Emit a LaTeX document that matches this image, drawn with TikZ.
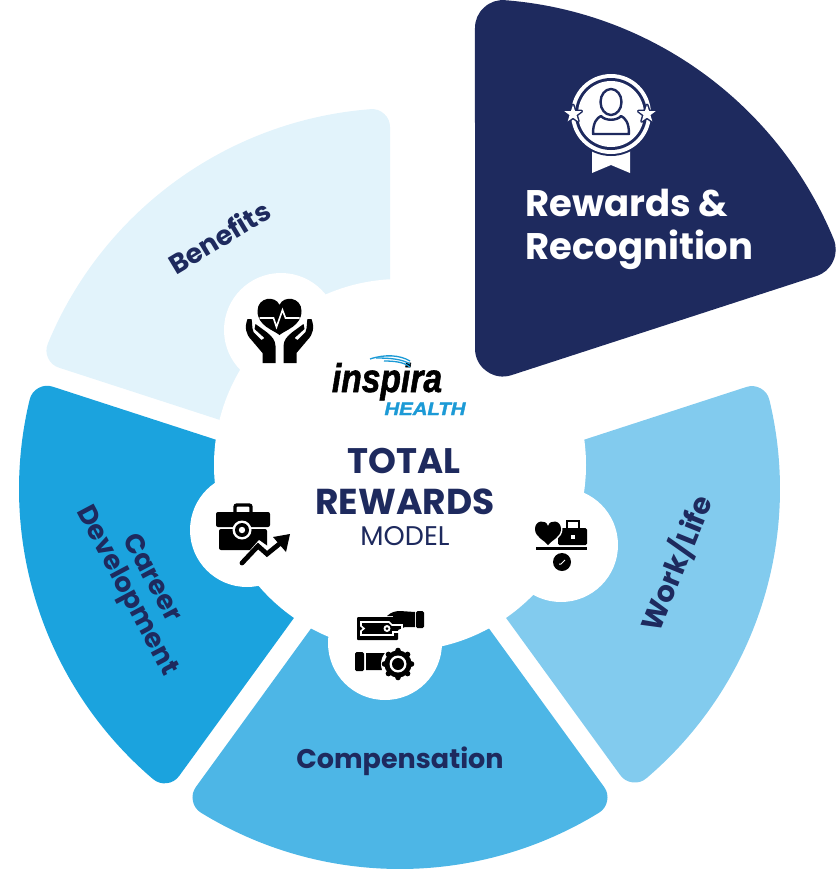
\documentclass[tikz,border=0pt]{standalone}
\usepackage{fontspec}
\setmainfont{Poppins}
\newfontfamily\logofont[FakeBold=1.6]{Liberation Sans Bold Italic}
\definecolor{navy}{HTML}{1E2A5E}
\definecolor{cben}{HTML}{E2F3FB}
\definecolor{ccar}{HTML}{1BA3DE}
\definecolor{ccom}{HTML}{4DB6E6}
\definecolor{cwor}{HTML}{82CBEE}
\definecolor{clogo}{HTML}{1C9AD6}
\newcommand{\wedgeshape}[8]{% cx cy a1(start, larger) a2 R off r colour
  \pgfmathsetmacro{\oo}{#6+#7}
  \pgfmathsetmacro{\half}{(#3-#4)/2}
  \pgfmathsetmacro{\mid}{(#3+#4)/2}
  \pgfmathsetmacro{\dd}{\oo/sin(\half)}
  \pgfmathsetmacro{\rr}{#5-#7}
  \pgfmathsetmacro{\da}{asin(\oo/\rr)}
  \pgfmathsetmacro{\sa}{#3-\da}
  \pgfmathsetmacro{\ea}{#4+\da}
  \fill[#8,draw=#8,line width=2*#7 pt,line join=round]
    ([shift={(\mid:\dd)}]#1,-#2) -- ([shift={(\sa:\rr)}]#1,-#2) arc[start angle=\sa,end angle=\ea,radius=\rr] -- cycle;
}
\tikzset{
  x=1pt,y=1pt,
  label/.style={text=navy,font=\bfseries,inner sep=0pt,align=center},
  ico/.style={fill=black,draw=none},
  icw/.style={fill=white,draw=none},
}
\begin{document}
\begin{tikzpicture}
\useasboundingbox (0,0) rectangle (837,-887);
% sectors
\wedgeshape{400}{489}{162}{90}{381}{10}{18}{cben}
\wedgeshape{400}{489}{234}{162}{381}{10}{18}{ccar}
\wedgeshape{400}{489}{306}{234}{380}{10}{18}{ccom}
\wedgeshape{400}{489}{378}{306}{380}{10}{18}{cwor}
% white cloud
\fill[white] (400,-465) circle (186);
\fill[white] (281,-330) circle (57);
\fill[white] (247,-530) circle (57);
\fill[white] (561,-545) circle (57);
\fill[white] (385,-643) circle (57);
\wedgeshape{475}{387}{90}{18}{388}{0}{28}{navy}
% texts
\node[label,font=\bfseries\fontsize{27}{30}\selectfont,rotate=31] (tben) at (219,-237) {Benefits};
\node[label,font=\bfseries\fontsize{29}{30}\selectfont,rotate=68] (twor) at (676,-563) {Work/Life};
\node[label,font=\bfseries\fontsize{27}{30}\selectfont] (tcom) at (400,-761) {Compensation};
\node[label,font=\bfseries\fontsize{27}{30}\selectfont,rotate=-62] (tcar) at (138,-585) {Career\\[-2pt]Development};
\node[label,text=white,align=left,font=\bfseries\fontsize{37}{43}\selectfont,anchor=west] (trew) at (525,-229) {Rewards \&\\Recognition};
\node[label,font=\bfseries\fontsize{35.5}{40}\selectfont] (ttot) at (404,-461) {TOTAL};
\node[label,font=\bfseries\fontsize{36}{40}\selectfont] (trwd) at (405,-502) {REWARDS};
\node[label,font=\fontsize{27}{30}\selectfont] (tmod) at (405,-536) {MODEL};
% logo
\node[inner sep=0pt,anchor=base,xscale=.84,font=\logofont\fontsize{40}{45}\selectfont] (tins) at (387,-392) {inspira};
\node[inner sep=0pt,anchor=base,xscale=1.13,text=clogo,font=\logofont\fontsize{18}{23}\selectfont] (thea) at (425,-415) {HEALTH};
\draw[clogo,line width=1.3pt] (370,-359) .. controls (385,-354) and (400,-355) .. (410,-361);
\draw[clogo,line width=1.3pt] (376,-358) .. controls (390,-358) and (402,-359) .. (410,-364);
\draw[clogo,line width=1.3pt] (384,-361) .. controls (394,-361) and (404,-362) .. (410,-367);
% heart in hands
\begin{scope}[shift={(279.5,-330)},y=-1pt]
  \fill[ico] (0,5) .. controls (-6,0) and (-22,-4) .. (-22,-19) .. controls (-22,-33) and (-4,-35) .. (0,-25)
     .. controls (4,-35) and (22,-33) .. (22,-19) .. controls (22,-4) and (6,0) .. (0,5) -- cycle;
  \draw[white,line width=1.6pt,line join=miter] (-20,-12) -- (-6,-12) -- (-3,-3) -- (3,-20) -- (6,-12) -- (20,-12);
  \foreach \s in {-1,1}{
    \begin{scope}[xscale=\s]
    \fill[white] (2,34) -- (2,14) -- (13,0) -- (26,-9) -- (26,10) -- (18,34) -- cycle;
    \fill[ico] (32,-11) .. controls (35,-3) and (34,4) .. (28,10) -- (17,23) -- (17,33) -- (4,33) -- (4,16)
       .. controls (4,10) and (8,6) .. (13,2) -- (24,-6) -- (25,-1) -- (15,8) -- (18,10) -- (26,2) .. controls (28,-3) and (27,-8) .. (28,-11) -- cycle;
    \end{scope}
  }
\end{scope}
% career icon
\begin{scope}[shift={(243,-530)},y=-1pt]
  \draw[black,line width=3.4pt,rounded corners=2pt] (-8,-18) -- (-8,-25) -- (8,-25) -- (8,-18);
  \fill[ico,rounded corners=2pt] (-27,-18) rectangle (27,-3);
  \fill[ico,rounded corners=2pt] (-24,-1) rectangle (24,20);
  \fill[white] (-1,0) circle (9.5);
  \fill[ico] (-1,0) circle (7);
  \fill[white] (-1,0) circle (3.2);
  \fill[white] (-6,35) -- (16,10) -- (26,17) -- (34,4) -- (50,3) -- (50,18) -- (26,32) -- (15,26) -- cycle;
  \draw[black,line width=4.8pt,line cap=round,line join=miter] (-1,33) -- (15,16) -- (24,24) -- (40,11);
  \fill[ico] (47,4) -- (43,22) -- (30,7) -- cycle;
\end{scope}
% work life icon
\begin{scope}[shift={(562,-545)},y=-1pt]
  \draw[black,line width=2pt] (5,-15) -- (5,-24) -- (17,-24) -- (17,-15);
  \fill[ico,rounded corners=1.5pt] (-4,-17) rectangle (25,0);
  \fill[white] (9,-10) rectangle (13,-6);
  \fill[white,draw=white,line width=3pt] (-14,0) .. controls (-18,-5) and (-27,-8) .. (-27,-16) .. controls (-27,-25) and (-16,-26) .. (-14,-19)
     .. controls (-12,-26) and (-1,-25) .. (-1,-16) .. controls (-1,-8) and (-10,-5) .. (-14,0) -- cycle;
  \fill[ico] (-14,0) .. controls (-18,-5) and (-27,-8) .. (-27,-16) .. controls (-27,-25) and (-16,-26) .. (-14,-19)
     .. controls (-12,-26) and (-1,-25) .. (-1,-16) .. controls (-1,-8) and (-10,-5) .. (-14,0) -- cycle;
  \draw[black,line width=2.6pt] (-26,3.5) -- (25,3.5);
  \fill[ico] (0,17) circle (9);
  \draw[white,line width=1pt] (-3,19) -- (-1,19) -- (3,15);
\end{scope}
% compensation icon
\begin{scope}[shift={(390,-640)},y=-1pt]
  \fill[ico,rounded corners=1.5pt] (26,-29) rectangle (34,-12);
  \fill[ico] (-3,-24) .. controls (1,-28) and (6,-29) .. (10,-29) -- (25,-28) -- (25,-13) -- (15,-13) -- (3,-8) -- (3,-24) -- cycle;
  \fill[ico,rounded corners=1pt] (-33,-23) rectangle (8,0);
  \draw[white,line width=1.6pt] (-29,-18) -- (-1,-18) -- (2,-15) -- (12,-15) -- (12,-8) -- (3,-8) -- (3,-5) -- (-29,-5) -- (-29,-9) -- (-26,-11.5) -- (-29,-14) -- cycle;
  \fill[white] (-3,-11.5) circle (3.5);
  \fill[ico] (-3,-11.5) circle (1.5);
  \fill[ico,rounded corners=1.5pt] (-35,12) rectangle (-26,31);
  \fill[ico] (-24,13) -- (-6,13) -- (2,17) -- (-5,22) -- (-1,26) -- (-4,30) -- (-24,30) -- cycle;
  \fill[white] (8,24) circle (17);
  \foreach \a in {0,45,...,315}{\fill[ico] ([shift={(8,24)}]\a:13.5) circle (2.8);}
  \fill[ico] (8,24) circle (13.5);
  \fill[white] (8,24) circle (8.5);
  \fill[ico] (8,24) circle (6);
\end{scope}
% badge
\begin{scope}[shift={(611,-114)},y=-1pt]
  \fill[white] (-19,20) -- (-19,59) -- (0,51) -- (19,59) -- (19,20) -- cycle;
  \fill[navy] (0,0) circle (42);
  \fill[white] (0,0) circle (40);
  \fill[navy] (0,0) circle (36);
  \fill[white] (0,0) circle (33);
  \draw[navy,line width=2.4pt] (0,-12) ellipse (10.5 and 13);
  \draw[navy,line width=2.4pt,line join=round] (-10,2) .. controls (-14,4) and (-18,8) .. (-18,20) -- (18,20) .. controls (18,8) and (14,4) .. (10,2) .. controls (6,7) and (-6,7) .. (-10,2) -- cycle;
  \foreach \x in {-38,36}{
    \fill[navy,draw=navy,line width=3pt,line join=round] ([shift={(\x,0)}]-90:9)--([shift={(\x,0)}]-54:3.6)--([shift={(\x,0)}]-18:9)--([shift={(\x,0)}]18:3.6)--([shift={(\x,0)}]54:9)--([shift={(\x,0)}]90:3.6)--([shift={(\x,0)}]126:9)--([shift={(\x,0)}]162:3.6)--([shift={(\x,0)}]198:9)--([shift={(\x,0)}]234:3.6)--cycle;
    \fill[white] ([shift={(\x,0)}]-90:9)--([shift={(\x,0)}]-54:3.6)--([shift={(\x,0)}]-18:9)--([shift={(\x,0)}]18:3.6)--([shift={(\x,0)}]54:9)--([shift={(\x,0)}]90:3.6)--([shift={(\x,0)}]126:9)--([shift={(\x,0)}]162:3.6)--([shift={(\x,0)}]198:9)--([shift={(\x,0)}]234:3.6)--cycle;
  }
\end{scope}
\end{tikzpicture}
\end{document}
